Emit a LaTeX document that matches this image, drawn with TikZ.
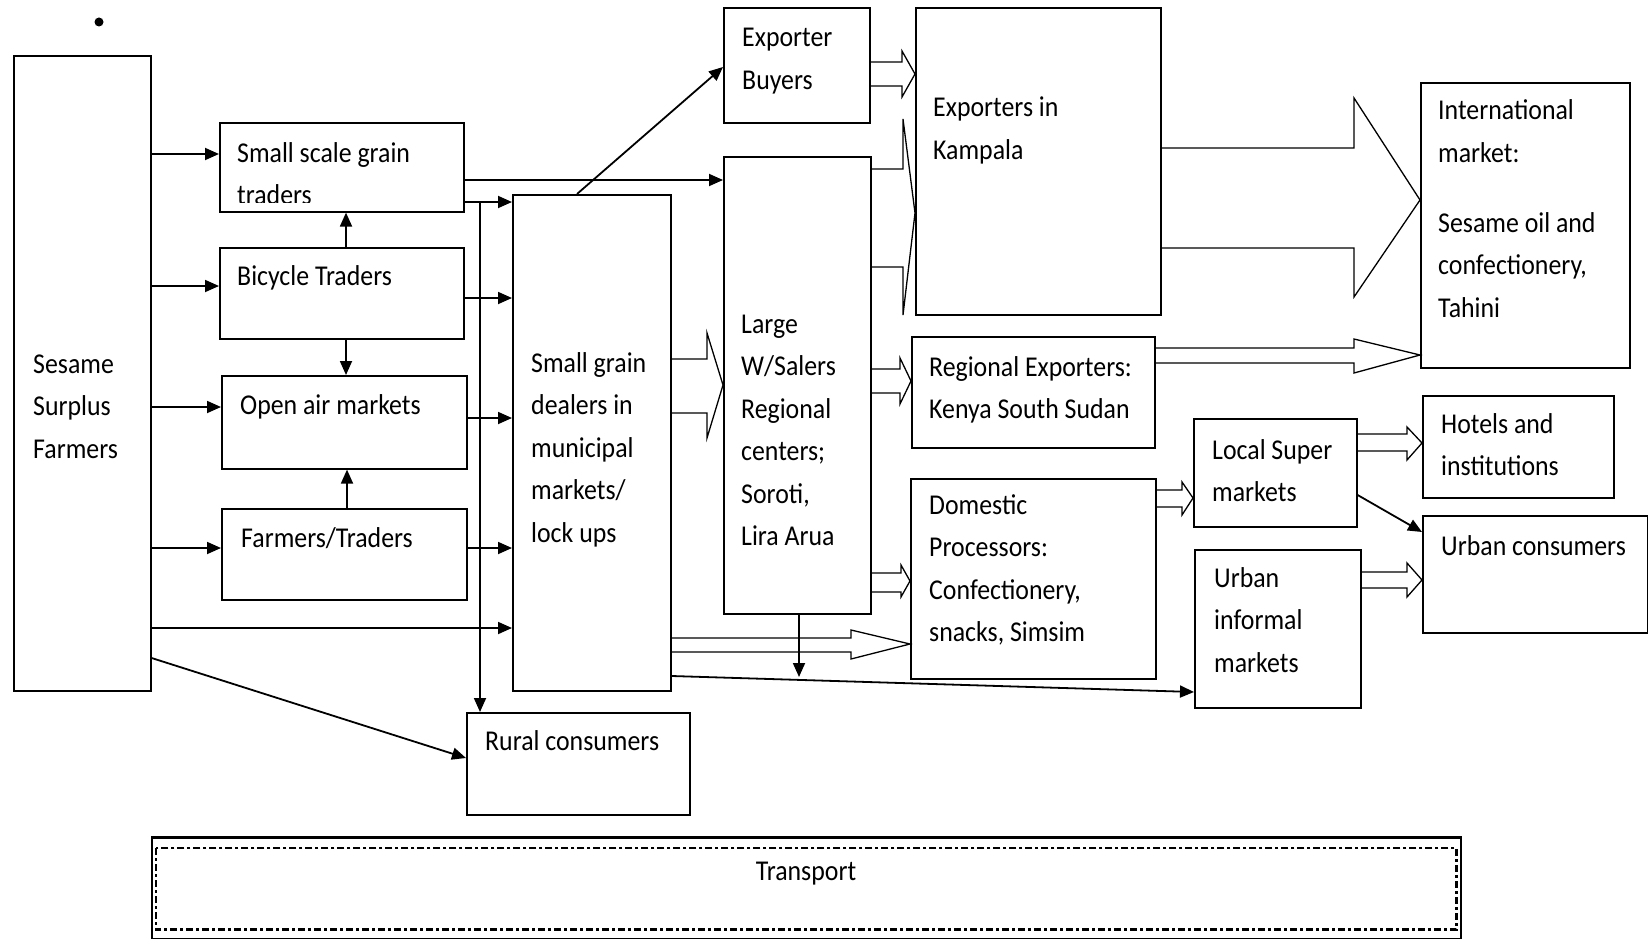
\documentclass[tikz,border=0pt]{standalone}
\usepackage{fontspec}
\setmainfont{Carlito}[FakeStretch=0.9]
\usetikzlibrary{arrows.meta,calc}
\newcommand\blkarrow[8]{%
  \draw[blk] (#1.east |- 0,#3) -- (#5,#3) -- (#5,#6) -- (#2.west |- 0,#8) -- (#5,#7) -- (#5,#4) -- (#1.east |- 0,#4);}
\newcommand\diagfont{\fontsize{28.7}{42.5}\selectfont}
\begin{document}
\begin{tikzpicture}[x=1pt,y=-1pt,
  box/.style={draw, line width=1.6pt, inner sep=0pt, anchor=north west},
  txt/.style={inner sep=0pt, anchor=base west, align=flush left, text width=260pt,
              font=\diagfont},
  arr/.style={line width=1.8pt, -{Triangle[length=14pt,width=12pt]}},
  blk/.style={draw, line width=1.3pt, line join=miter}]
\useasboundingbox (0,0) rectangle (1648,939);

% bullet
\node[circle, fill, inner sep=0pt, minimum size=9pt] (bullet) at (99,22) {};

% boxes
\node[box, minimum width=137, minimum height=635] (sesame) at (13,55) {};
\node[box, minimum width=244, minimum height=89] (ssgt) at (219,122) {};
\node[box, minimum width=244, minimum height=91] (bicycle) at (219,247) {};
\node[box, minimum width=245, minimum height=93] (openair) at (221,375) {};
\node[box, minimum width=245, minimum height=91] (farmtr) at (221,508) {};
\node[box, minimum width=158, minimum height=496] (dealers) at (512,194) {};
\node[box, minimum width=223, minimum height=102] (rural) at (466,712) {};
\node[box, minimum width=146, minimum height=115] (expbuy) at (723,7) {};
\node[box, minimum width=147, minimum height=457] (large) at (723,156) {};
\node[box, minimum width=245, minimum height=307] (kampala) at (915,7) {};
\node[box, minimum width=243, minimum height=111] (regexp) at (911,336) {};
\node[box, minimum width=245, minimum height=200] (domestic) at (910,478) {};
\node[box, minimum width=163, minimum height=108] (localsuper) at (1193,418) {};
\node[box, minimum width=166, minimum height=158] (urbinf) at (1194,549) {};
\node[box, minimum width=209, minimum height=285] (intl) at (1420,82) {};
\node[box, minimum width=191, minimum height=102] (hotels) at (1422,395) {};
\node[box, minimum width=225, minimum height=117] (urbcons) at (1422,515) {};
\node[box, minimum width=1309, minimum height=101] (transport) at (151,837) {};
\draw[line width=2.6pt] (transport.north west) -- (transport.north east);
\draw[line width=2.4pt, dash pattern=on 7pt off 3pt on 3pt off 3pt]
  ([shift={(5,11)}]transport.north west) rectangle ([shift={(-5,-10)}]transport.south east);

% texts
\node[txt] (t-sesame) at (33,373) {Sesame\\Surplus\\Farmers};
\begin{scope}
  \clip (219,122) rectangle (463,202);
  \node[txt] (t-ssgt) at (237,162) {Small scale grain\\traders};
\end{scope}
\node[txt] (t-bicycle) at (237,285) {Bicycle Traders};
\node[txt] (t-openair) at (240,414) {Open air markets};
\node[txt] (t-farmtr) at (241,547) {Farmers/Traders};
\node[txt] (t-dealers) at (531,372) {Small grain\\dealers in\\municipal\\markets/\\lock ups};
\node[txt] (t-rural) at (485,750) {Rural consumers};
\node[txt] (t-expbuy) at (742,47) {Exporter\\Buyers};
\node[txt] (t-large) at (741,333) {Large\\W/Salers\\Regional\\centers;\\Soroti,\\Lira Arua};
\node[txt] (t-kampala) at (933,117) {Exporters in\\Kampala};
\node[txt] (t-regexp) at (929,376) {Regional Exporters:\\Kenya South Sudan};
\node[txt] (t-domestic) at (929,514) {Domestic\\Processors:\\Confectionery,\\snacks, Simsim};
\node[txt] (t-localsuper) at (1212,459) {Local Super\\markets};
\node[txt] (t-urbinf) at (1214,587) {Urban\\informal\\markets};
\node[txt] (t-intl) at (1438,120) {International\\market:\\[27.5pt]Sesame oil and\\confectionery,\\Tahini};
\node[txt] (t-hotels) at (1441,433) {Hotels and\\institutions};
\node[txt] (t-urbcons) at (1441,555) {Urban consumers};
\node[inner sep=0pt, anchor=base, font=\diagfont] (t-transport) at (806,880) {Transport};

% solid arrows
\draw[arr] (sesame.east |- 0,154) -- (ssgt.west |- 0,154);
\draw[arr] (sesame.east |- 0,286) -- (bicycle.west |- 0,286);
\draw[arr] (sesame.east |- 0,407) -- (openair.west |- 0,407);
\draw[arr] (sesame.east |- 0,548) -- (farmtr.west |- 0,548);
\draw[arr] (sesame.east |- 0,628) -- (dealers.west |- 0,628);
\draw[arr] (sesame.east |- 0,658) -- (rural.west |- 0,758);
\draw[arr] (bicycle.north -| 346,0) -- (ssgt.south -| 346,0);
\draw[arr] (bicycle.south -| 346,0) -- (openair.north -| 346,0);
\draw[arr] (farmtr.north -| 347,0) -- (openair.south -| 347,0);
\draw[arr] (ssgt.east |- 0,180) -- (large.west |- 0,180);
\draw[arr] (ssgt.east |- 0,202) -- (dealers.west |- 0,202);
\coordinate (j1) at (480,202);
\draw[arr] (j1) -- (rural.north -| j1);
\draw[arr] (bicycle.east |- 0,298) -- (dealers.west |- 0,298);
\draw[arr] (openair.east |- 0,418) -- (dealers.west |- 0,418);
\draw[arr] (farmtr.east |- 0,548) -- (dealers.west |- 0,548);
\draw[arr] (dealers.north -| 577,0) -- (expbuy.west |- 0,67);
\draw[arr] (dealers.east |- 0,676) -- (urbinf.west |- 0,692);
\coordinate (ldown) at (799,677);
\draw[arr] (large.south -| ldown) -- (ldown);
\draw[arr] (localsuper.east |- 0,495) -- (urbcons.west |- 0,532);

% block arrows: from, to, shaft top, shaft bottom, head base x, head top, head bottom, tip y
\blkarrow{expbuy}{kampala}{62}{86}{902}{51}{97}{74}
\blkarrow{large}{kampala}{169}{267}{903}{119}{315}{213}
\blkarrow{dealers}{large}{359}{413}{707}{333}{438}{385}
\blkarrow{large}{regexp}{369}{393}{900}{358}{404}{381}
\blkarrow{large}{domestic}{573}{592}{901}{565}{597}{581}
\blkarrow{dealers}{domestic}{638}{652}{851}{630}{659}{644}
\blkarrow{kampala}{intl}{148}{248}{1354}{98}{297}{200}
\blkarrow{regexp}{intl}{348}{363}{1354}{339}{373}{355}
\blkarrow{domestic}{localsuper}{490}{507}{1182}{482}{515}{498}
\blkarrow{localsuper}{hotels}{434}{451}{1407}{427}{460}{443}
\blkarrow{urbinf}{urbcons}{572}{588}{1407}{563}{597}{580}
\end{tikzpicture}
\end{document}
